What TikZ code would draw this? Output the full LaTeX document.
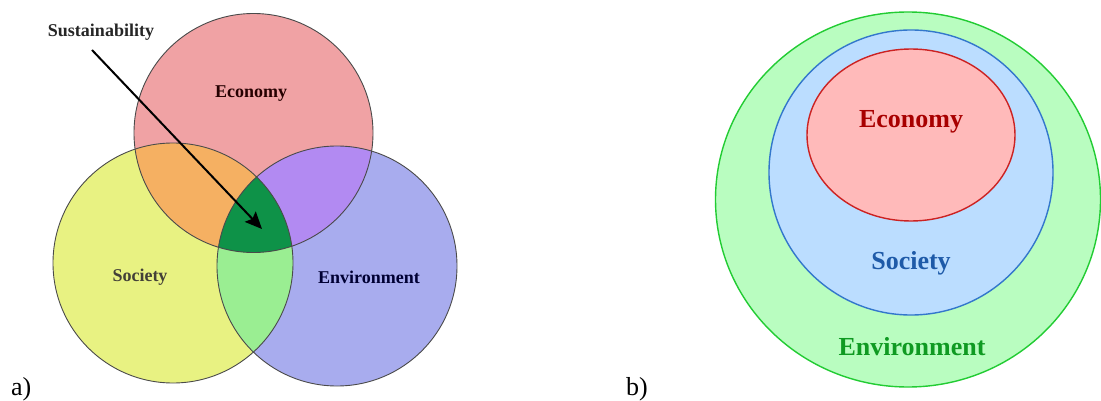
\documentclass[tikz,border=0pt]{standalone}
\usepackage{fontspec}
\setmainfont{Liberation Serif}
\usetikzlibrary{arrows.meta}
\definecolor{econpink}{HTML}{F0A2A4}
\definecolor{socyellow}{HTML}{E8F282}
\definecolor{envblue}{HTML}{A8ACEE}
\definecolor{eso}{HTML}{F5B062}
\definecolor{eee}{HTML}{B28AF2}
\definecolor{see}{HTML}{9AEE92}
\definecolor{allg}{HTML}{0E9248}
\definecolor{vline}{HTML}{4A4A4A}
\definecolor{renvfill}{HTML}{B9FDC0}
\definecolor{renvline}{HTML}{22CC33}
\definecolor{rsocfill}{HTML}{BBDDFF}
\definecolor{rsocline}{HTML}{3377CC}
\definecolor{recofill}{HTML}{FFBABA}
\definecolor{recoline}{HTML}{CC2222}
\definecolor{recotext}{HTML}{A80000}
\definecolor{rsoctext}{HTML}{1E5AA8}
\definecolor{renvtext}{HTML}{0F9A22}
\tikzset{
  vennlabel/.style={font=\fontsize{18}{20}\selectfont\bfseries, inner sep=0pt},
  rlabel/.style={font=\fontsize{26}{28}\selectfont\bfseries, inner sep=0pt},
  panel/.style={font=\fontsize{26}{28}\selectfont, inner sep=0pt, anchor=base west},
  vennline/.style={draw=vline, line width=0.9pt},
  pointer/.style={line width=2pt, -{Stealth[length=17pt,width=15pt,inset=3pt]}},
}
\begin{document}
\begin{tikzpicture}[x=1pt,y=-1pt]
\useasboundingbox (0,0) rectangle (1101,401);
\fill[white] (0,0) rectangle (1101,401);
% ---------- Venn diagram (a) ----------
\def\econ{(253.5,133) circle[radius=119.5pt]}
\def\soc{(173,263) circle[radius=120pt]}
\def\env{(337,266) circle[radius=120pt]}
\fill[econpink] \econ;
\fill[socyellow] \soc;
\fill[envblue] \env;
\begin{scope}\clip \econ; \fill[eso] \soc; \end{scope}
\begin{scope}\clip \econ; \fill[eee] \env; \end{scope}
\begin{scope}\clip \soc; \fill[see] \env; \end{scope}
\begin{scope}\clip \econ; \clip \soc; \fill[allg] \env; \end{scope}
\draw[vennline] \econ;
\draw[vennline] \soc;
\draw[vennline] \env;
\node[vennlabel, text=black!85!red] (veco) at (251,94) {Economy};
\node[vennlabel, text=black!85!yellow] (vsoc) at (140,277) {Society};
\node[vennlabel, text=black!80!blue] (venv) at (369,277) {Environment};
\node[vennlabel, text=black!85] (sus) at (101,32) {Sustainability};
\coordinate (arrstart) at (92,50);
\coordinate (arrtip) at (262,229);
\draw[pointer] (arrstart) -- (arrtip);
\node[panel] (pa) at (11,395) {a)};
% ---------- Nested diagram (b) ----------
\draw[draw=renvline, fill=renvfill, line width=1.4pt] (908,199.5) ellipse[x radius=192.5pt, y radius=187.5pt];
\draw[draw=rsocline, fill=rsocfill, line width=1.4pt] (911,172.5) ellipse[x radius=142pt, y radius=142.5pt];
\draw[draw=recoline, fill=recofill, line width=1.4pt] (911,135) ellipse[x radius=104pt, y radius=86pt];
\node[rlabel, text=recotext] (reco) at (911,122) {Economy};
\node[rlabel, text=rsoctext] (rsoc) at (911,263) {Society};
\node[rlabel, text=renvtext] (renv) at (912,347) {Environment};
\node[panel] (pb) at (626,395) {b)};
\end{tikzpicture}
\end{document}
